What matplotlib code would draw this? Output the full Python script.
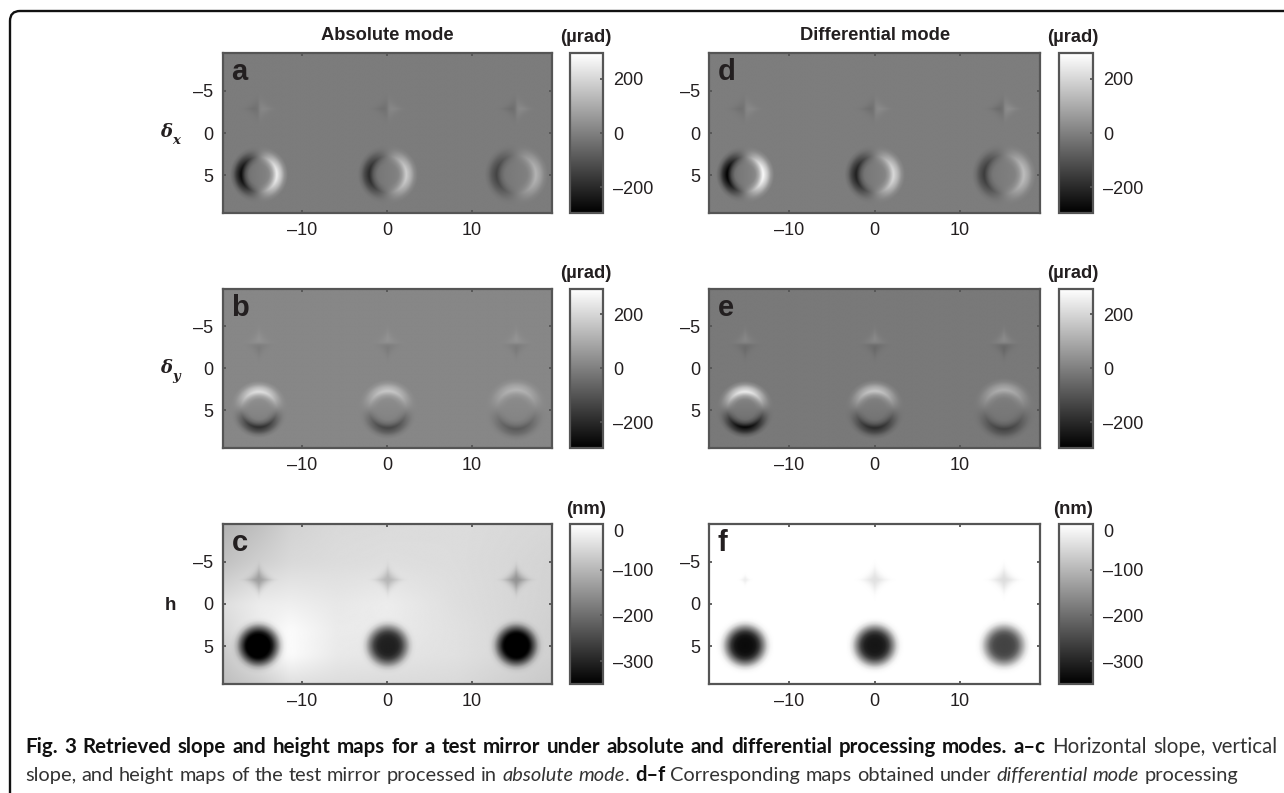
import numpy as np
import matplotlib
matplotlib.use("Agg")
import matplotlib.pyplot as plt
from matplotlib.path import Path
from matplotlib.patches import PathPatch

W, H = 1284, 793
plt.rcParams["font.family"] = ["Liberation Sans", "DejaVu Sans"]

# marker positions on the mirror
dome_x = [-15.2, -0.05, 15.05]
dome_y = 4.9
cross_y = -2.9
slope_spread = [1, 1.04, 1.1]

# radial profiles
radius = [0, 0.8, 1.2, 1.6, 2.1, 2.6, 3.0, 3.4, 9]
height_profile = [1, 0.99, 0.95, 0.82, 0.5, 0.16, 0.03, 0, 0]
slope_profile = [0, 0.04, 0.1, 0.38, 1, 0.62, 0.2, 0, 0]
star_rho = [0, 0.5, 1.0, 1.5, 2.0, 2.6, 9]
star_profile = [1, 0.88, 0.58, 0.28, 0.08, 0, 0]

# peak amplitudes per marker column
dome_a = [265, 190, 130]
dome_b = [205, 150, 105]
dome_c = [350, 275, 330]
dome_d = [290, 215, 150]
dome_e = [265, 180, 125]
dome_f = [335, 320, 258]
cross_a = [48, 48, 58]
cross_b = [50, 50, 55]
cross_c = [85, 65, 95]
cross_d = [50, 58, 72]
cross_e = [60, 68, 78]
cross_f = [25, 42, 48]
cross_size_f = [0.4, 1, 1]

# background level of each panel
bg_a = -8
bg_b = 18
bg_d = -6
bg_e = -15
bg_f = 0
bg_x = [-19.4, -15, -11.5, -6, 0, 8, 19.4]
bg_y = [-9.5, -5, 0, 3, 6, 9.5]
bg_c = [
    [-105, -85, -62, -52, -50, -48, -55],
    [-85, -65, -52, -48, -45, -48, -60],
    [-45, -25, -22, -32, -25, -45, -62],
    [-55, -25, -5, -28, -28, -42, -65],
    [-75, -35, -5, -30, -35, -42, -65],
    [-90, -70, -45, -48, -50, -52, -75],
]

x_ticks = [-10, 0, 10]
x_labels = ["\u201310", "0", "10"]
y_ticks = [-5, 0, 5]
y_labels = ["\u20135", "0", "5"]
slope_ticks = [200, 0, -200]
slope_labels = ["200", "0", "\u2013200"]
height_ticks = [0, -100, -200, -300]
height_labels = ["0", "\u2013100", "\u2013200", "\u2013300"]
slope_lim = (-295, 295)
height_lim = (-350, 0)

EDGE = "#555555"
TXT = "#231f20"

fig = plt.figure(figsize=(W / 100, H / 100), dpi=100)


def rect(x0, y0, x1, y1):
    return [x0 / W, 1 - y1 / H, (x1 - x0) / W, (y1 - y0) / H]


xs = np.arange(-19.4, 19.4, 0.05)
ys = np.arange(-9.5, 9.5, 0.05)
X, Y = np.meshgrid(xs, ys)


def star(u, v, size):
    rho = (np.abs(u) ** 0.8 + np.abs(v) ** 0.8) ** (1 / 0.8) / size
    return np.interp(rho, star_rho, star_profile)


def height_map(bg, dome, cross, sizes=(1, 1, 1)):
    if np.isscalar(bg):
        Z = np.full(X.shape, float(bg))
    else:
        rows = np.array([np.interp(xs, bg_x, row) for row in bg])
        Z = np.array([np.interp(ys, bg_y, rows[:, i]) for i in range(len(xs))]).T
        k = np.ones(20) / 20
        Z = np.apply_along_axis(lambda c: np.convolve(np.pad(c, 20, mode="edge"), k, "same")[20:-20], 0, Z)
        Z = np.apply_along_axis(lambda c: np.convolve(np.pad(c, 20, mode="edge"), k, "same")[20:-20], 1, Z)
    for i, x0 in enumerate(dome_x):
        r = np.hypot(X - x0, Y - dome_y)
        Z = Z - dome[i] * np.interp(r, radius, height_profile)
        Z = Z - cross[i] * star(X - x0, Y - cross_y, sizes[i])
    return Z


def slope_map(bg, dome, cross, axis):
    Z = np.full(X.shape, float(bg))
    for i, x0 in enumerate(dome_x):
        dx, dy = X - x0, Y - dome_y
        r = np.hypot(dx, dy) + 1e-6
        d = dx if axis == "x" else -dy
        Z = Z + dome[i] * np.interp(r / slope_spread[i], radius, slope_profile) * d / r
        u, v = X - x0, Y - cross_y
        w = u if axis == "x" else -v
        Z = Z + cross[i] * star(u, v, 1) * w / (np.abs(w) + 0.3)
    return Z


def panel(box, cbox, Z, lim, cticks, clabels, letter):
    ax = fig.add_axes(rect(*box))
    im = ax.imshow(Z, cmap="gray", vmin=lim[0], vmax=lim[1], aspect="auto",
                   extent=[-19.4, 19.4, 9.5, -9.5], interpolation="bilinear")
    ax.set_xticks(x_ticks, x_labels)
    ax.set_yticks(y_ticks, y_labels)
    ax.tick_params(direction="in", length=2.5, width=1.3, color=EDGE, labelsize=13,
                   labelcolor=TXT, pad=6.5, top=True, right=True)
    for s in ax.spines.values():
        s.set_linewidth(1.6)
        s.set_color(EDGE)
    fig.text((box[0] + 9) / W, 1 - (box[1] + 27) / H, letter, fontsize=21, fontweight="bold",
             color=TXT, ha="left", va="baseline")

    cax = fig.add_axes(rect(*cbox))
    cb = fig.colorbar(im, cax=cax)
    cb.set_ticks(cticks, labels=clabels)
    cb.ax.tick_params(direction="in", length=2, width=1.3, color=EDGE, labelsize=13,
                      labelcolor=TXT, pad=7.5)
    cb.outline.set_linewidth(1.6)
    cb.outline.set_edgecolor(EDGE)
    if cticks[0] == 0:
        cb.ax.get_yticklabels()[0].set_va("top")
    return ax


left = (222.5, 552)
right = (709, 1040)
cleft = (569.5, 603)
cright = (1058.5, 1092.5)
rows_y = [(53, 213), (288.5, 448), (524, 684)]

panel((left[0], rows_y[0][0], left[1], rows_y[0][1]), (cleft[0], rows_y[0][0], cleft[1], rows_y[0][1]),
      slope_map(bg_a, dome_a, cross_a, "x"), slope_lim, slope_ticks, slope_labels, "a")
panel((left[0], rows_y[1][0], left[1], rows_y[1][1]), (cleft[0], rows_y[1][0], cleft[1], rows_y[1][1]),
      slope_map(bg_b, dome_b, cross_b, "y"), slope_lim, slope_ticks, slope_labels, "b")
panel((left[0], rows_y[2][0], left[1], rows_y[2][1]), (cleft[0], rows_y[2][0], cleft[1], rows_y[2][1]),
      height_map(bg_c, dome_c, cross_c), height_lim, height_ticks, height_labels, "c")
panel((right[0], rows_y[0][0], right[1], rows_y[0][1]), (cright[0], rows_y[0][0], cright[1], rows_y[0][1]),
      slope_map(bg_d, dome_d, cross_d, "x"), slope_lim, slope_ticks, slope_labels, "d")
panel((right[0], rows_y[1][0], right[1], rows_y[1][1]), (cright[0], rows_y[1][0], cright[1], rows_y[1][1]),
      slope_map(bg_e, dome_e, cross_e, "y"), slope_lim, slope_ticks, slope_labels, "e")
panel((right[0], rows_y[2][0], right[1], rows_y[2][1]), (cright[0], rows_y[2][0], cright[1], rows_y[2][1]),
      height_map(bg_f, dome_f, cross_f, cross_size_f), height_lim, height_ticks, height_labels, "f")


def label(x, y, s, **kw):
    kw.setdefault("fontweight", "bold")
    kw.setdefault("color", TXT)
    kw.setdefault("ha", "center")
    kw.setdefault("va", "center")
    fig.text(x / W, 1 - y / H, s, **kw)


label(387, 36, "Absolute mode", fontsize=13.2)
label(875, 36, "Differential mode", fontsize=13.2)
for x0 in (586, 1073):
    label(x0, 38, "(\u00b5rad)", fontsize=13.2)
    label(x0, 274, "(\u00b5rad)", fontsize=13.2)
    label(x0, 509, "(nm)", fontsize=13.2)

for y0, sub in ((132, "x"), (368, "y")):
    label(166, y0, "\u03b4", fontsize=13, family="DejaVu Serif", style="italic")
    label(172, y0 + 8, sub, fontsize=9.5, family="DejaVu Serif", style="italic", ha="left")
label(170, 605, "h", fontsize=13.5)

# frame around the figure, open on the right and at the bottom
border = Path([(1, 1 - 11 / H), (20 / W, 1 - 11 / H), (10 / W, 1 - 11 / H), (10 / W, 1 - 21 / H), (10 / W, 0)],
              [Path.MOVETO, Path.LINETO, Path.CURVE3, Path.CURVE3, Path.LINETO])
fig.add_artist(PathPatch(border, fc="none", ec="#111111", lw=1.7, transform=fig.transFigure))

caption_1 = [("Fig. 3 Retrieved slope and height maps for a test mirror under absolute and differential processing modes. a\u2013c", "bold", "normal"),
             ("Horizontal slope, vertical", "normal", "normal")]
caption_2 = [("slope, and height maps of the test mirror processed in", "normal", "normal"),
             ("absolute mode", "normal", "italic"),
             (".", "normal", "normal"),
             ("d\u2013f", "bold", "normal"),
             ("Corresponding maps obtained under", "normal", "normal"),
             ("differential mode", "normal", "italic"),
             ("processing", "normal", "normal")]


def caption(runs, y, x_end, size):
    rend = fig.canvas.get_renderer()
    words = []
    for s, weight, style in runs:
        for w in s.split(" "):
            words.append((w, weight, style))
    # fit the words between the margins, as a justified line
    items = []
    for w, weight, style in words:
        t = fig.text(25 / W, 1 - y / H, w, family="Lato", fontsize=size, fontweight=weight, fontstyle=style,
                     color="#111111" if weight == "bold" else "#333333", va="baseline")
        items.append((t, t.get_window_extent(rend).width))
    no_gap = [i for i, (w, _, _) in enumerate(words) if w == "."]
    n_gaps = len(words) - 1 - len(no_gap)
    gap = (x_end - 25 - sum(v for _, v in items)) / n_gaps
    x = 25.0
    for i, (t, v) in enumerate(items):
        if i in no_gap:
            x -= gap
        t.set_x(x / W)
        x += v + gap


caption(caption_1, 753, 1278, 14.8)
caption(caption_2, 781, 1238, 14.4)

fig.savefig("out.png", dpi=100)
